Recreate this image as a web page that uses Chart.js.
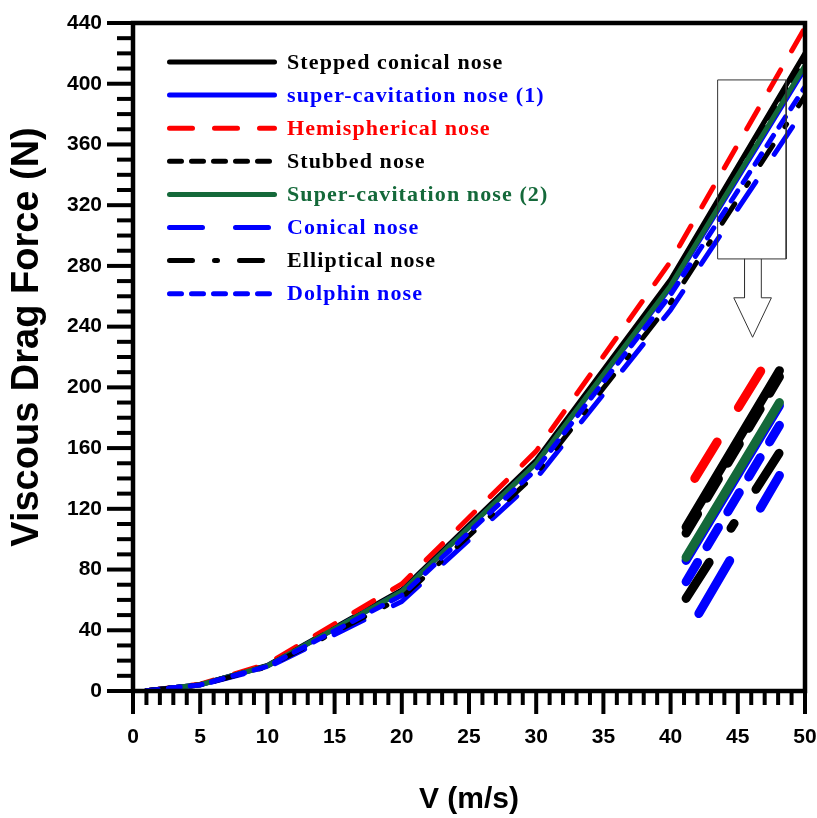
<!DOCTYPE html>
<html>
<head>
<meta charset="utf-8">
<script src="https://cdn.jsdelivr.net/npm/chart.js@4.4.0/dist/chart.umd.min.js"></script>
<style>
  html, body { margin: 0; padding: 0; background: #fff; }
  #wrap { width: 817px; height: 818px; position: relative; }
</style>
</head>
<body>
<div id="wrap"><canvas id="chartjs"></canvas></div>
<script>
/*==== data ====*/
const velocity = [1, 5, 10, 20, 30, 40, 50];

const steppedConical = [0.2, 4.2, 16.8, 66.5, 152, 271, 420];
const superCav1      = [0.2, 4.1, 16.5, 65.5, 150, 266, 410];
const hemispherical  = [0.2, 4.5, 17.8, 70.5, 158, 283, 437];
const stubbed        = [0.2, 4.1, 16.6, 65.5, 150, 269, 417];
const superCav2      = [0.2, 4.1, 16.5, 65.5, 150, 267, 412];
const conical        = [0.2, 3.8, 15.5, 59.0, 140, 251, 384];
const elliptical     = [0.2, 3.9, 16.0, 61.5, 143, 256, 392];
const dolphin        = [0.2, 4.0, 16.2, 63.0, 146, 261, 398];

const seriesNames = [
    'Stepped conical nose',
    'super-cavitation nose (1)',
    'Hemispherical nose',
    'Stubbed nose',
    'Super-cavitation nose (2)',
    'Conical nose',
    'Elliptical nose',
    'Dolphin nose'
];

// magnified view of the 43.5-48.6 m/s window: [V, F] at both ends of each line
const insetStepped    = [[41.15, 108], [48.1, 211]];
const insetSuperCav1  = [[41.15, 86],  [48.1, 188]];
const insetHemi       = [[41.8, 140],  [47.0, 215]];
const insetStubbed    = [[41.15, 104], [48.1, 207]];
const insetSuperCav2  = [[41.15, 88],  [48.1, 190]];
const insetConical    = [[42.1, 51],   [48.1, 142]];
const insetElliptical = [[41.15, 61],  [48.1, 157]];
const insetDolphin    = [[41.15, 72],  [48.1, 175]];

// selection box and the arrow pointing down to the magnified view
const zoomBoxV = [43.5, 48.6, 48.6, 43.5, 43.5];
const zoomBoxF = [402.5, 402.5, 284.6, 284.6, 402.5];
const arrowV = [45.5, 45.5, 44.7, 46.1, 47.5, 46.75, 46.75];
const arrowF = [284.6, 259, 259, 233, 259, 259, 284.6];

const xTicks = [0, 50, 5, 1];     // min, max, major step, minor step
const yTicks = [0, 440, 40, 10];
const yTitle = 'Viscous Drag Force (N)';

/*==== styles ====*/
const GREEN = '#14693a';
const seriesColors = ['#000000', '#0000ff', '#ff0000', '#000000', GREEN, '#0000ff', '#000000', '#0000ff'];
const seriesDash = [
    [],               // stepped conical
    [],               // super-cavitation (1)
    [23, 22],         // hemispherical
    [12, 10],         // stubbed
    [],               // super-cavitation (2)
    [33, 33],         // conical
    [23, 22, 3, 22],  // elliptical (dash-dot)
    [12, 10]          // dolphin
];
const mainValues = [steppedConical, superCav1, hemispherical, stubbed, superCav2, conical, elliptical, dolphin];
const insetValues = [insetStepped, insetSuperCav1, insetHemi, insetStubbed, insetSuperCav2, insetConical, insetElliptical, insetDolphin];

const LINE_W = 5;
const INSET_W = 9;
const INSET_SCALE = 1.85;

var datasets = [];
for (var i = 0; i < mainValues.length; i++) {
    datasets.push({
        label: seriesNames[i],
        data: velocity.map((v, k) => ({x: v, y: mainValues[i][k]})),
        borderColor: seriesColors[i],
        borderWidth: LINE_W,
        borderDash: seriesDash[i],
        borderCapStyle: 'round',
        borderJoinStyle: 'round',
        pointRadius: 0,
        order: -i
    });
}
for (var i = 0; i < insetValues.length; i++) {
    // the magnified copy: thicker stroke and stretched dashes
    datasets.push({
        label: 'inset ' + seriesNames[i],
        data: insetValues[i].map(p => ({x: p[0], y: p[1]})),
        borderColor: seriesColors[i],
        borderWidth: INSET_W,
        borderDash: seriesDash[i].map((d, k) => k % 2 === 0 ? Math.max(1, (d + LINE_W) * INSET_SCALE - INSET_W) : (d - LINE_W) * INSET_SCALE + INSET_W),
        borderCapStyle: 'round',
        pointRadius: 0,
        order: -20 - i
    });
}
datasets.push({
    label: 'box',
    data: zoomBoxV.map((v, k) => ({x: v, y: zoomBoxF[k]})),
    borderColor: '#333',
    borderWidth: 1,
    pointRadius: 0,
    order: -40
});
datasets.push({
    label: 'arrow',
    data: arrowV.map((v, k) => ({x: v, y: arrowF[k]})),
    borderColor: '#333',
    borderWidth: 1,
    fill: false,
    pointRadius: 0,
    order: -41
});

/*==== plugins ====*/
// framed axes with outward major / minor tick marks, plus the y title
const axisFrame = {
    id: 'axisFrame',
    afterDatasetsDraw(chart) {
        const {ctx, chartArea: a, scales: {x, y}} = chart;
        ctx.save();
        ctx.strokeStyle = '#000';
        ctx.lineWidth = 4;
        ctx.lineCap = 'butt';
        for (let v = xTicks[0]; v <= xTicks[1]; v += xTicks[3]) {
            const px = x.getPixelForValue(v);
            const len = v % xTicks[2] === 0 ? 23 : 14;
            ctx.beginPath();
            ctx.moveTo(px, a.bottom);
            ctx.lineTo(px, a.bottom + len);
            ctx.stroke();
        }
        for (let v = yTicks[0]; v <= yTicks[1]; v += yTicks[3]) {
            const py = y.getPixelForValue(v);
            const len = v % yTicks[2] === 0 ? 26 : 16;
            ctx.beginPath();
            ctx.moveTo(a.left, py);
            ctx.lineTo(a.left - len, py);
            ctx.stroke();
        }
        ctx.lineWidth = 4.5;
        ctx.strokeRect(a.left, a.top, a.right - a.left, a.bottom - a.top);

        // y title sits a little above the axis middle
        ctx.translate(28, 337);
        ctx.rotate(-Math.PI / 2);
        ctx.font = 'bold 38px Arial, "Liberation Sans", sans-serif';
        ctx.fillStyle = '#000';
        ctx.textAlign = 'center';
        ctx.textBaseline = 'middle';
        ctx.fillText(yTitle, 0, 0);
        ctx.restore();
    }
};

// legend drawn inside the plot, text coloured like its line
const insideLegend = {
    id: 'insideLegend',
    afterDraw(chart) {
        const ctx = chart.ctx;
        ctx.save();
        ctx.font = 'bold 22px "Liberation Serif", "Times New Roman", serif';
        ctx.letterSpacing = '1.1px';
        ctx.textBaseline = 'middle';
        for (let i = 0; i < seriesNames.length; i++) {
            const yy = 62 + i * 33.1;
            ctx.strokeStyle = seriesColors[i];
            ctx.lineWidth = LINE_W;
            ctx.lineCap = 'round';
            ctx.setLineDash(seriesDash[i]);
            ctx.beginPath();
            ctx.moveTo(169.5, yy);
            ctx.lineTo(274.5, yy);
            ctx.stroke();
            ctx.setLineDash([]);
            ctx.fillStyle = seriesColors[i];
            ctx.fillText(seriesNames[i], 287, yy + 1);
        }
        ctx.restore();
    }
};

/*==== config ====*/
Chart.defaults.font.family = 'Arial, "Liberation Sans", sans-serif';
Chart.defaults.color = '#000';

var config = {
    type: 'line',
    data: {datasets: datasets},
    options: {
        responsive: true,
        maintainAspectRatio: false,
        animation: false,
        events: [],
        layout: {padding: {top: 23, right: 12, left: 0, bottom: 0}},
        plugins: {legend: {display: false}, tooltip: {enabled: false}},
        scales: {
            x: {
                type: 'linear',
                min: xTicks[0],
                max: xTicks[1],
                ticks: {stepSize: xTicks[2], font: {size: 21, weight: 'bold'}, padding: 11, maxRotation: 0},
                grid: {drawOnChartArea: false, color: 'rgba(0,0,0,0)', tickLength: 23},
                border: {display: false},
                title: {display: true, text: 'V (m/s)', font: {size: 30, weight: 'bold'}, padding: {top: 0, bottom: 0}},
                afterFit(scale) {
                    scale.height = 127;
                    scale.paddingLeft = 0;
                    scale.paddingRight = 0;
                }
            },
            y: {
                type: 'linear',
                min: yTicks[0],
                max: yTicks[1],
                ticks: {stepSize: yTicks[2], font: {size: 21, weight: 'bold'}, padding: 5},
                grid: {drawOnChartArea: false, color: 'rgba(0,0,0,0)', tickLength: 26},
                border: {display: false},
                afterFit(scale) {
                    scale.width = 133;
                    scale.paddingTop = 0;
                    scale.paddingBottom = 0;
                }
            }
        }
    },
    plugins: [axisFrame, insideLegend]
};

var dragChart = new Chart(document.querySelector('#chartjs'), config);
</script>
</body>
</html>
